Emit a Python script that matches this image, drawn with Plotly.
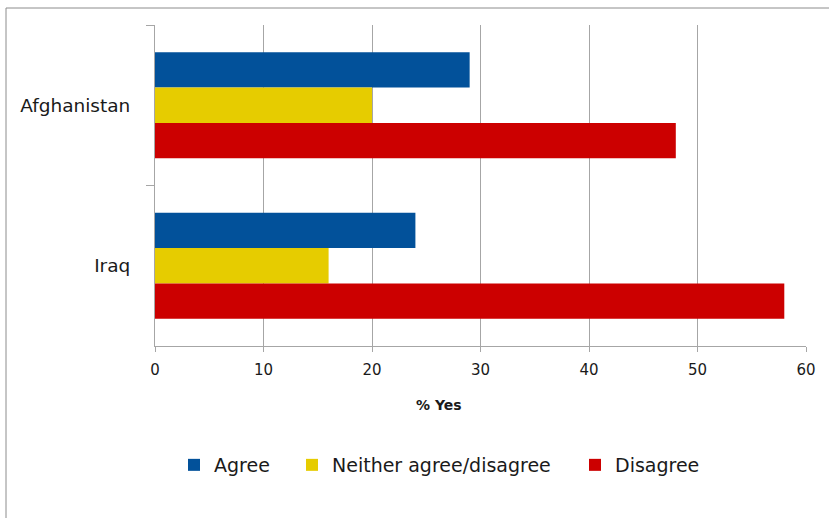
import plotly.graph_objects as go

countries = ["Afghanistan", "Iraq"]
series_names = ["Agree", "Neither agree/disagree", "Disagree"]
agree = [29, 24]
neither = [20, 16]
disagree = [48, 58]
x_ticks = [0, 10, 20, 30, 40, 50, 60]

colors = ["#02519a", "#e6cc00", "#cc0000"]
values = [agree, neither, disagree]

W, H = 829, 518
L, R, T, B = 155, 23, 25, 172
pw, ph = W - L - R, H - T - B

def px_x(x):
    return (x - L) / pw

def px_y(y):
    return 1 - (y - T) / ph

fig = go.Figure()
legend_ids = ["legend", "legend2", "legend3"]
for name, vals, col, lg in zip(series_names, values, colors, legend_ids):
    fig.add_trace(go.Bar(
        y=countries, x=vals, name=name, orientation="h",
        marker=dict(color=col, line=dict(width=0)),
        legend=lg,
    ))

font_family = "DejaVu Sans"
legend_px = [174, 292, 575]
leg_common = dict(orientation="h", yanchor="middle", xanchor="left",
                  font=dict(family=font_family, size=19, color="#1a1a1a"),
                  itemwidth=30, bgcolor="rgba(0,0,0,0)", borderwidth=0)
layout_legends = {}
for lg, lx in zip(legend_ids, legend_px):
    layout_legends[lg] = dict(x=px_x(lx), y=px_y(465), **leg_common)

fig.update_layout(
    width=W, height=H,
    margin=dict(l=L, r=R, t=T, b=B, pad=0),
    paper_bgcolor="white", plot_bgcolor="white",
    barmode="group", bargap=0.34, bargroupgap=0,
    font=dict(family=font_family, color="#1a1a1a"),
    showlegend=True,
    **layout_legends,
    xaxis=dict(
        range=[0, 60], tickvals=x_ticks, ticktext=[str(t) for t in x_ticks],
        showgrid=True, gridcolor="#a6a6a6", gridwidth=1,
        zeroline=False, showline=True, linecolor="#a6a6a6", linewidth=1,
        ticks="outside", ticklen=5, tickcolor="#a6a6a6",
        tickfont=dict(family=font_family, size=15, color="#1a1a1a"),
        ticklabelstandoff=5,
    ),
    yaxis=dict(
        categoryorder="array", categoryarray=countries, autorange="reversed",
        showgrid=False, zeroline=False, showline=True, linecolor="#a6a6a6", linewidth=1,
        ticks="outside", ticklen=8, tickcolor="#a6a6a6", tickson="boundaries",
        tickfont=dict(family=font_family, size=18.5, color="#1a1a1a"),
        ticklabelstandoff=20,
    ),
    annotations=[dict(
        text="<b>% Yes</b>", x=px_x(439), y=px_y(405), xref="paper", yref="paper",
        showarrow=False, font=dict(family=font_family, size=14, color="#1a1a1a"),
        xanchor="center", yanchor="middle",
    )],
    shapes=[dict(
        type="rect", xref="paper", yref="paper",
        x0=px_x(6), x1=px_x(860), y0=px_y(560), y1=px_y(8),
        line=dict(color="#8c8c8c", width=1), fillcolor="rgba(0,0,0,0)", layer="below",
    )],
)

fig.write_html("out.html")
